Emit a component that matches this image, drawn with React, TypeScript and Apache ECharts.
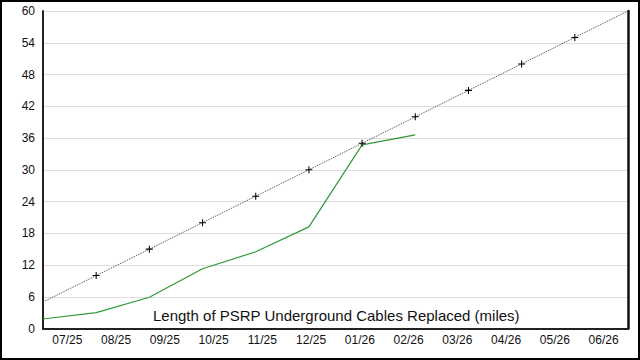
import React, { useEffect, useRef } from "react";
import * as echarts from "echarts";

const monthLabels = ["07/25", "08/25", "09/25", "10/25", "11/25", "12/25", "01/26", "02/26", "03/26", "04/26", "05/26", "06/26"];
const plannedMiles = [5, 10, 15, 20, 25, 30, 35, 40, 45, 50, 55, 60];
const actualMiles = [1.8, 3.0, 5.9, 11.3, 14.5, 19.2, 34.7, 36.6];
const yTicks = { min: 0, max: 60, interval: 6 };
const titleText = "Length of PSRP Underground Cables Replaced (miles)";

const plusSymbol = "path://M-1,-0.15L1,-0.15L1,0.15L-1,0.15Z M-0.15,-1L0.15,-1L0.15,1L-0.15,1Z";

export default function App() {
  const ref = useRef<HTMLDivElement>(null);
  useEffect(() => {
    if (!ref.current) return;
    const chart = echarts.init(ref.current, null, { renderer: "svg" });
    const font = "Arial, 'Liberation Sans', sans-serif";
    const last = plannedMiles.length - 1;
    chart.setOption({
      animation: false,
      textStyle: { fontFamily: font },
      grid: { left: 43, right: 12, top: 11, bottom: 31.5 },
      title: {
        text: titleText,
        left: 153,
        top: 308,
        padding: 0,
        textStyle: { fontSize: 15, fontWeight: "normal", color: "#111", fontFamily: font },
      },
      xAxis: [
        {
          type: "category",
          data: monthLabels,
          boundaryGap: true,
          axisLine: { show: true, lineStyle: { color: "#222", width: 2 } },
          axisTick: { show: false },
          axisLabel: { color: "#111", fontSize: 12, margin: 5, fontFamily: font },
          splitLine: { show: false },
        },
        {
          type: "value",
          min: 0,
          max: last,
          show: false,
          position: "bottom",
        },
      ],
      yAxis: [
        {
          type: "value",
          min: yTicks.min,
          max: yTicks.max,
          interval: yTicks.interval,
          axisLine: { show: true, lineStyle: { color: "#222", width: 2 } },
          axisTick: { show: false },
          axisLabel: { color: "#111", fontSize: 12, margin: 8, fontFamily: font },
          splitLine: { show: true, lineStyle: { color: "#dddddd", width: 1 } },
        },
        {
          type: "value",
          min: yTicks.min,
          max: yTicks.max,
          interval: yTicks.interval,
          position: "right",
          axisLine: { show: true, lineStyle: { color: "#111", width: 2.5 } },
          axisTick: { show: false },
          axisLabel: { show: false },
          splitLine: { show: false },
        },
      ],
      graphic: [
        {
          type: "rect",
          shape: { x: 1, y: 1, width: 638, height: 358 },
          style: { fill: "none", stroke: "#000", lineWidth: 2 },
          silent: true,
        },
      ],
      series: [
        {
          type: "line",
          xAxisIndex: 1,
          yAxisIndex: 0,
          data: plannedMiles.map((v, i) => ({
            value: [i, v],
            symbol: i === 0 || i === last ? "none" : plusSymbol,
          })),
          symbol: plusSymbol,
          symbolSize: 7,
          itemStyle: { color: "#000" },
          lineStyle: { color: "#444", width: 1, type: [1, 1] },
          z: 3,
        },
        {
          type: "line",
          xAxisIndex: 1,
          yAxisIndex: 0,
          data: actualMiles.map((v, i) => [i, v]),
          showSymbol: false,
          symbol: "none",
          lineStyle: { color: "#2e9a33", width: 1.2 },
          z: 2,
        },
      ],
    });
    return () => chart.dispose();
  }, []);
  return <div ref={ref} style={{ position: "fixed", left: 0, top: 0, width: 640, height: 360, background: "#fff" }} />;
}
